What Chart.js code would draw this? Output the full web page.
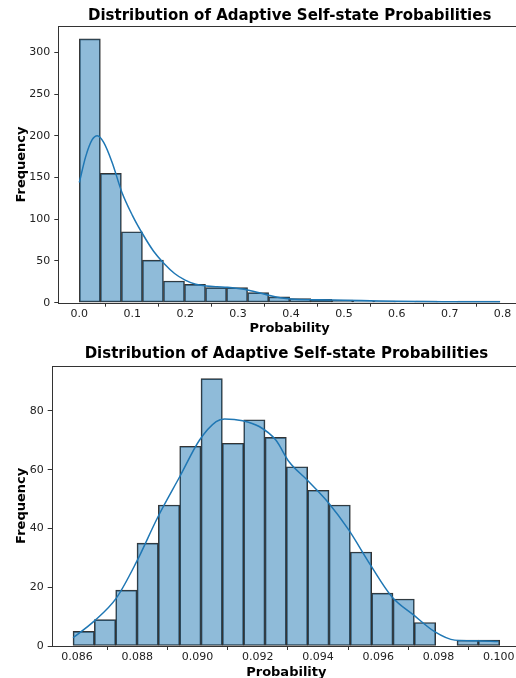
<!DOCTYPE html>
<html>
<head>
<meta charset="utf-8">
<title>Distribution of Adaptive Self-state Probabilities</title>
<script src="https://cdn.jsdelivr.net/npm/chart.js@4.4.0/dist/chart.umd.min.js"></script>
<style>
  html, body { margin: 0; padding: 0; background: #fff; overflow: hidden; }
  body { width: 516px; height: 678px; position: relative; }
  canvas { position: absolute; left: 0; }
  #topChart { top: 0; }
  #bottomChart { top: 339px; }
</style>
</head>
<body>
<canvas id="topChart" width="524" height="340"></canvas>
<canvas id="bottomChart" width="524" height="345"></canvas>
<script>
// Top histogram: bin centers and counts
const topCenters = [0.0199, 0.0596, 0.0994, 0.1391, 0.1789, 0.2186, 0.2584, 0.2981, 0.3379, 0.3776,
                    0.4174, 0.4571, 0.4969, 0.5366, 0.5764, 0.6161, 0.6559, 0.6956, 0.7354, 0.7751];
const topCounts = [316, 155, 85, 51, 26, 22, 18, 18, 12, 7, 5, 4, 3, 2, 2, 1, 2, 1, 2, 2];
// Top KDE curve
const topKdeX = [0, 0.012, 0.024, 0.034, 0.046, 0.062, 0.08, 0.1, 0.12, 0.14, 0.16, 0.18, 0.2, 0.22,
                 0.24, 0.26, 0.28, 0.3, 0.32, 0.34, 0.36, 0.38, 0.4, 0.45, 0.5, 0.55, 0.6, 0.65, 0.7, 0.75, 0.795];
const topKdeY = [144, 175, 195, 200, 192, 168, 133, 105, 82, 62, 47, 35, 27, 22,
                 20, 19, 18.4, 17, 15, 12, 8.5, 6, 4.5, 3.5, 3, 2.3, 1.6, 1.3, 1.2, 1.1, 1];
const topXTicks = [0, 0.1, 0.2, 0.3, 0.4, 0.5, 0.6, 0.7, 0.8];
const topYTicks = [0, 50, 100, 150, 200, 250, 300];

// Bottom histogram
const bottomCenters = [0.086224, 0.086932, 0.08764, 0.088348, 0.089056, 0.089764, 0.090472, 0.09118, 0.091888, 0.092596,
                       0.093304, 0.094012, 0.09472, 0.095428, 0.096136, 0.096844, 0.097552, 0.09826, 0.098968, 0.099676];
const bottomCounts = [5, 9, 19, 35, 48, 68, 91, 69, 77, 71, 61, 53, 48, 32, 18, 16, 8, 0, 2, 2];
const bottomKdeX = [0.08587, 0.08655, 0.0873, 0.08798, 0.08869, 0.08941, 0.09007, 0.09062, 0.0909, 0.0915, 0.09205,
                    0.0926, 0.09304, 0.09364, 0.09436, 0.09502, 0.09574, 0.09645, 0.09717, 0.09787, 0.09854, 0.09925, 0.09997];
const bottomKdeY = [2.8, 8.3, 16.2, 28.7, 44, 57.6, 70.1, 76.4, 77.3, 76.7, 74.7,
                    70.1, 62.7, 56.5, 48.6, 39.5, 27.6, 16.8, 10.6, 4.9, 2.0, 1.8, 1.5];
const bottomXTicks = [0.086, 0.088, 0.090, 0.092, 0.094, 0.096, 0.098, 0.100];
const bottomYTicks = [0, 20, 40, 60, 80];

const FONT = "'DejaVu Sans', sans-serif";

// matplotlib-style frame around the plot area
const spines = {
    id: 'spines',
    afterDraw(chart) {
        const { ctx, chartArea: a } = chart;
        const l = Math.round(a.left) + 0.5, t = Math.round(a.top) + 0.5;
        const r = Math.round(a.right) + 0.5, b = Math.round(a.bottom) + 0.5;
        ctx.save();
        ctx.strokeStyle = '#333';
        ctx.lineWidth = 1;
        ctx.strokeRect(l, t, r - l, b - t);
        ctx.restore();
    }
};

function makeHist(id, cfg) {
    return new Chart(document.getElementById(id), {
        type: 'bar',
        data: {
            datasets: [{
                type: 'line',
                data: cfg.kdeX.map((x, i) => ({ x: x, y: cfg.kdeY[i] })),
                borderColor: '#1f77b4',
                borderWidth: 1.5,
                pointRadius: 0,
                cubicInterpolationMode: 'monotone',
                fill: false,
                order: 0
            }, {
                data: cfg.centers.map((x, i) => ({ x: x, y: cfg.counts[i] })),
                backgroundColor: 'rgba(31, 119, 180, 0.5)',
                borderColor: '#333',
                borderWidth: 1,
                borderSkipped: false,
                categoryPercentage: 1,
                barPercentage: 1,
                order: 1
            }]
        },
        options: {
            responsive: false,
            animation: false,
            layout: { padding: { left: 0, right: 3, top: 0, bottom: 0 } },
            plugins: {
                legend: { display: false },
                tooltip: { enabled: false },
                title: {
                    display: true,
                    text: 'Distribution of Adaptive Self-state Probabilities',
                    fullSize: false,
                    color: '#000',
                    font: { family: FONT, size: 15, weight: 'bold' },
                    padding: { top: cfg.titleTop, bottom: cfg.titleBottom }
                }
            },
            scales: {
                x: {
                    type: 'linear',
                    min: cfg.xMin,
                    max: cfg.xMax,
                    offset: false,
                    afterBuildTicks: s => { s.ticks = cfg.xTicks.map(v => ({ value: v })); },
                    afterFit: s => { s.height = cfg.xHeight; },
                    ticks: {
                        callback: v => v.toFixed(cfg.xDigits),
                        color: '#222',
                        font: { family: FONT, size: 11 },
                        padding: 1,
                        maxRotation: 0,
                        autoSkip: false
                    },
                    grid: { drawOnChartArea: false, drawTicks: true, tickLength: 4, color: '#333' },
                    border: { display: false },
                    title: {
                        display: true,
                        text: 'Probability',
                        color: '#000',
                        font: { family: FONT, size: 13, weight: 'bold' },
                        padding: { top: 0, bottom: 3.7 }
                    }
                },
                y: {
                    min: 0,
                    max: cfg.yMax,
                    afterBuildTicks: s => { s.ticks = cfg.yTicks.map(v => ({ value: v })); },
                    afterFit: s => { s.width = cfg.yWidth; },
                    ticks: {
                        color: '#222',
                        font: { family: FONT, size: 11 },
                        padding: 4
                    },
                    grid: { drawOnChartArea: false, drawTicks: true, tickLength: 4, color: '#333' },
                    border: { display: false },
                    title: {
                        display: true,
                        text: 'Frequency',
                        color: '#000',
                        font: { family: FONT, size: 13, weight: 'bold' },
                        padding: { top: 13.5, bottom: 0 }
                    }
                }
            }
        },
        plugins: [spines]
    });
}

makeHist('topChart', {
    centers: topCenters, counts: topCounts, kdeX: topKdeX, kdeY: topKdeY,
    xTicks: topXTicks, yTicks: topYTicks, xDigits: 1,
    xMin: -0.03975, xMax: 0.83475, yMax: 331.1,
    yWidth: 58.3, xHeight: 37.3, titleTop: 6.8, titleBottom: 1.5
});

makeHist('bottomChart', {
    centers: bottomCenters, counts: bottomCounts, kdeX: bottomKdeX, kdeY: bottomKdeY,
    xTicks: bottomXTicks, yTicks: bottomYTicks, xDigits: 3,
    xMin: 0.085162, xMax: 0.100738, yMax: 95.4,
    yWidth: 51.7, xHeight: 38, titleTop: 6.5, titleBottom: 2.2
});
</script>
</body>
</html>
